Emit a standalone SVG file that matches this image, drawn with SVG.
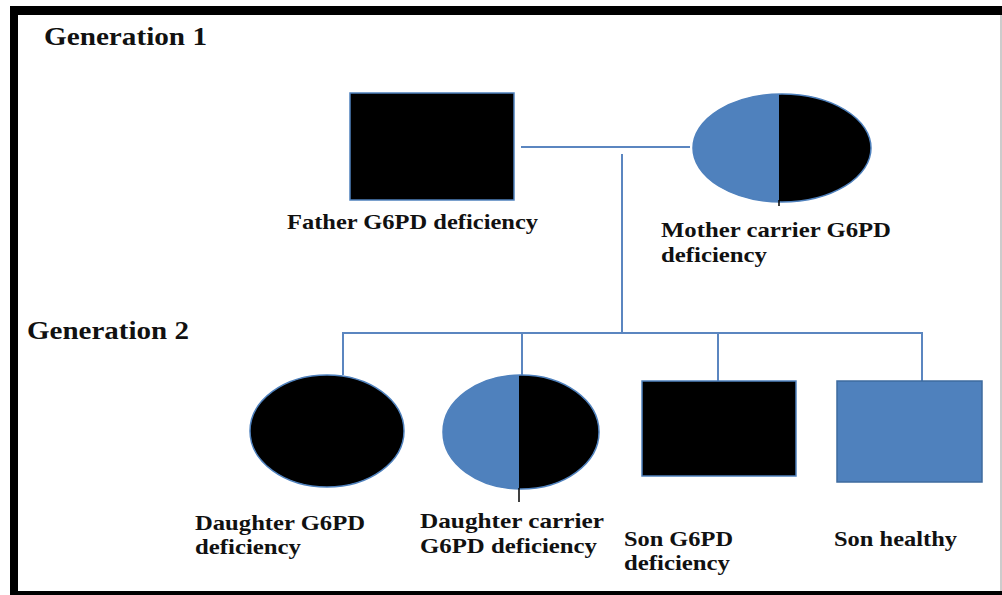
<svg xmlns="http://www.w3.org/2000/svg" width="1002" height="595" viewBox="0 0 1002 595">
<style>
.lbl{font-family:"Liberation Serif","Times New Roman",serif;font-weight:bold;font-size:22px;fill:#111;}
.gen{font-family:"Liberation Serif","Times New Roman",serif;font-weight:bold;font-size:25px;fill:#111;}
.con{stroke:#5b86c0;stroke-width:2;fill:none;}
.blk{fill:#000;stroke:#4f81bd;stroke-width:1.5;}
.blu{fill:#4f81bd;}
</style>
<rect x="0" y="0" width="1002" height="595" fill="#fff"/>
<g id="frame">
<rect x="10" y="6" width="992" height="9" fill="#000"/>
<rect x="10" y="6" width="8" height="589" fill="#000"/>
<rect x="10" y="591" width="992" height="4" fill="#000"/>
<line x1="1001" y1="15" x2="1001" y2="591" stroke="#999" stroke-width="1"/>
</g>
<text class="gen" x="44" y="45" textLength="163" lengthAdjust="spacingAndGlyphs">Generation 1</text>
<text class="gen" x="27" y="339" textLength="162" lengthAdjust="spacingAndGlyphs">Generation 2</text>
<g id="connectors">
<line class="con" x1="521" y1="147" x2="690" y2="147"/>
<line class="con" x1="622" y1="154" x2="622" y2="333"/>
<line class="con" x1="342" y1="333" x2="923" y2="333"/>
<line class="con" x1="343" y1="333" x2="343" y2="375"/>
<line class="con" x1="522" y1="333" x2="522" y2="376"/>
<line class="con" x1="718" y1="333" x2="718" y2="381"/>
<line class="con" x1="922" y1="333" x2="922" y2="381"/>
</g>
<g id="father">
<rect class="blk" x="350" y="93" width="164" height="107"/>
<text class="lbl" x="287" y="229" textLength="251" lengthAdjust="spacingAndGlyphs">Father G6PD deficiency</text>
</g>
<g id="mother">
<clipPath id="cm"><ellipse cx="782" cy="148" rx="89" ry="54"/></clipPath>
<g clip-path="url(#cm)">
<rect class="blu" x="690" y="90" width="89" height="120"/>
<rect x="779" y="90" width="95" height="120" fill="#000"/>
</g>
<ellipse cx="782" cy="148" rx="89" ry="54" fill="none" stroke="#4f81bd" stroke-width="1.5"/>
<line x1="779" y1="200" x2="779" y2="206" stroke="#000" stroke-width="1.5"/>
<text class="lbl" x="661" y="237" textLength="230" lengthAdjust="spacingAndGlyphs">Mother carrier G6PD</text>
<text class="lbl" x="661" y="262" textLength="106" lengthAdjust="spacingAndGlyphs">deficiency</text>
</g>
<g id="daughter1">
<ellipse class="blk" cx="327" cy="431" rx="77" ry="56"/>
<text class="lbl" x="195" y="530" textLength="170" lengthAdjust="spacingAndGlyphs">Daughter G6PD</text>
<text class="lbl" x="195" y="554" textLength="106" lengthAdjust="spacingAndGlyphs">deficiency</text>
</g>
<g id="daughter2">
<clipPath id="cd"><ellipse cx="521" cy="432" rx="78" ry="57"/></clipPath>
<g clip-path="url(#cd)">
<rect class="blu" x="440" y="370" width="79" height="125"/>
<rect x="519" y="370" width="85" height="125" fill="#000"/>
</g>
<ellipse cx="521" cy="432" rx="78" ry="57" fill="none" stroke="#4f81bd" stroke-width="1.5"/>
<line x1="519" y1="488" x2="519" y2="502" stroke="#000" stroke-width="1.5"/>
<text class="lbl" x="420" y="528" textLength="184" lengthAdjust="spacingAndGlyphs">Daughter carrier</text>
<text class="lbl" x="420" y="553" textLength="177" lengthAdjust="spacingAndGlyphs">G6PD deficiency</text>
</g>
<g id="son1">
<rect class="blk" x="642" y="381" width="154" height="95"/>
<text class="lbl" x="624" y="546" textLength="109" lengthAdjust="spacingAndGlyphs">Son G6PD</text>
<text class="lbl" x="624" y="570" textLength="106" lengthAdjust="spacingAndGlyphs">deficiency</text>
</g>
<g id="son2">
<rect x="837" y="381" width="145" height="101" fill="#4f81bd" stroke="#3e6b9f" stroke-width="1.5"/>
<text class="lbl" x="834" y="546" textLength="123" lengthAdjust="spacingAndGlyphs">Son healthy</text>
</g>
</svg>
